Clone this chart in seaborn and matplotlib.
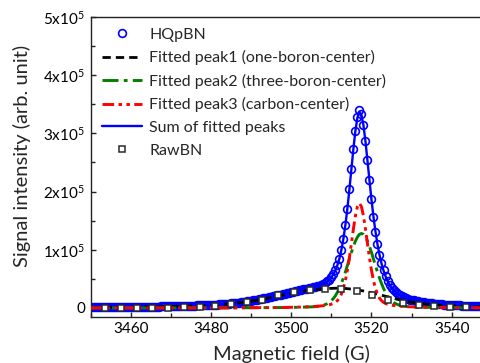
import numpy as np
import pandas as pd
import matplotlib
matplotlib.use("Agg")
import matplotlib.pyplot as plt
from matplotlib.ticker import MultipleLocator, FuncFormatter
from matplotlib.lines import Line2D
import seaborn as sns

# ---------------- data (intensities in units of 1e5) ----------------
# HQpBN spectrum, sampled every 0.5 G from 3450 G to 3548 G
hq_field = np.arange(3450.0, 3548.25, 0.5)
hq_signal = [
    0.012, 0.012, 0.012, 0.012, 0.013, 0.013, 0.013, 0.013, 0.014, 0.014,
    0.014, 0.014, 0.015, 0.015, 0.015, 0.016, 0.016, 0.016, 0.017, 0.017,
    0.017, 0.018, 0.018, 0.019, 0.019, 0.020, 0.020, 0.021, 0.021, 0.022,
    0.022, 0.023, 0.024, 0.024, 0.025, 0.026, 0.026, 0.027, 0.028, 0.028,
    0.029, 0.030, 0.031, 0.032, 0.033, 0.034, 0.035, 0.036, 0.037, 0.038,
    0.039, 0.040, 0.042, 0.043, 0.045, 0.046, 0.048, 0.049, 0.051, 0.052,
    0.053, 0.055, 0.057, 0.059, 0.061, 0.064, 0.067, 0.069, 0.072, 0.075,
    0.078, 0.081, 0.085, 0.089, 0.093, 0.098, 0.103, 0.108, 0.113, 0.118,
    0.124, 0.130, 0.136, 0.142, 0.149, 0.156, 0.163, 0.170, 0.177, 0.185,
    0.193, 0.200, 0.207, 0.215, 0.223, 0.230, 0.238, 0.246, 0.255, 0.262,
    0.270, 0.279, 0.287, 0.295, 0.303, 0.311, 0.319, 0.326, 0.334, 0.341,
    0.349, 0.357, 0.366, 0.375, 0.385, 0.398, 0.413, 0.432, 0.455, 0.486,
    0.527, 0.577, 0.645, 0.734, 0.848, 0.998, 1.188, 1.424, 1.709, 2.036,
    2.387, 2.737, 3.047, 3.290, 3.400, 3.340, 3.140, 2.864, 2.535, 2.194,
    1.865, 1.568, 1.311, 1.093, 0.913, 0.766, 0.645, 0.546, 0.466, 0.400,
    0.347, 0.305, 0.270, 0.241, 0.218, 0.200, 0.183, 0.170, 0.156, 0.145,
    0.136, 0.129, 0.121, 0.114, 0.108, 0.102, 0.096, 0.091, 0.085, 0.082,
    0.077, 0.074, 0.069, 0.067, 0.063, 0.061, 0.058, 0.055, 0.054, 0.050,
    0.048, 0.047, 0.045, 0.044, 0.043, 0.040, 0.039, 0.038, 0.036, 0.035,
    0.034, 0.032, 0.031, 0.030, 0.028, 0.028, 0.026,
]

# field points of the fitted components
fit_field = [
    3450, 3455, 3460, 3465, 3470, 3475, 3480, 3485, 3490, 3495,
    3497, 3499, 3501, 3503, 3505, 3506, 3507, 3508,
    3509, 3509.5, 3510, 3510.5, 3511, 3511.5, 3512, 3512.5, 3513, 3513.5,
    3514, 3514.5, 3515, 3515.5, 3516, 3516.5, 3517, 3517.5, 3518, 3518.5,
    3519, 3519.5, 3520, 3520.5, 3521, 3521.5, 3522, 3522.5, 3523, 3523.5,
    3524, 3524.5, 3525, 3525.5, 3526,
    3527, 3528, 3529, 3530, 3532, 3534, 3536, 3538, 3540, 3543, 3546, 3548,
]
peak1_one_boron = [
    0.010, 0.012, 0.015, 0.020, 0.026, 0.035, 0.048, 0.072, 0.115, 0.180,
    0.208, 0.236, 0.263, 0.288, 0.308, 0.316, 0.322, 0.328,
    0.333, 0.335, 0.337, 0.338, 0.339, 0.340, 0.340, 0.339, 0.337, 0.335,
    0.332, 0.328, 0.324, 0.319, 0.314, 0.309, 0.303, 0.298, 0.292, 0.285,
    0.277, 0.270, 0.262, 0.254, 0.246, 0.237, 0.228, 0.219, 0.210, 0.201,
    0.192, 0.183, 0.174, 0.166, 0.157,
    0.140, 0.125, 0.111, 0.098, 0.079, 0.063, 0.051, 0.043, 0.036, 0.029, 0.023, 0.020,
]
peak2_three_boron = [
    0.001, 0.001, 0.001, 0.001, 0.001, 0.002, 0.002, 0.003, 0.004, 0.006,
    0.007, 0.009, 0.011, 0.014, 0.019, 0.023, 0.031, 0.046,
    0.074, 0.096, 0.125, 0.162, 0.209, 0.268, 0.338, 0.421, 0.515, 0.618,
    0.729, 0.843, 0.955, 1.059, 1.150, 1.220, 1.265, 1.280, 1.265, 1.220,
    1.150, 1.059, 0.955, 0.843, 0.729, 0.618, 0.515, 0.421, 0.338, 0.268,
    0.209, 0.162, 0.125, 0.096, 0.074,
    0.046, 0.031, 0.023, 0.019, 0.014, 0.011, 0.009, 0.007, 0.006, 0.005, 0.004, 0.003,
]
peak3_carbon = [
    0.001, 0.001, 0.001, 0.001, 0.002, 0.002, 0.002, 0.003, 0.005, 0.007,
    0.008, 0.010, 0.013, 0.017, 0.022, 0.027, 0.032, 0.039,
    0.048, 0.055, 0.065, 0.077, 0.097, 0.126, 0.170, 0.238, 0.336, 0.471,
    0.648, 0.865, 1.108, 1.359, 1.583, 1.742, 1.800, 1.742, 1.583, 1.359,
    1.108, 0.865, 0.648, 0.471, 0.336, 0.238, 0.170, 0.126, 0.097, 0.077,
    0.065, 0.055, 0.048, 0.043, 0.039,
    0.032, 0.027, 0.022, 0.019, 0.015, 0.011, 0.009, 0.008, 0.006, 0.005, 0.004, 0.003,
]

# raw BN spectrum
raw_field = [
    3453.6, 3457.5, 3461.5, 3465.3, 3469.3, 3473.3, 3477.2, 3481.1, 3485.0, 3489.0,
    3492.8, 3496.7, 3500.6, 3504.6, 3508.5, 3512.4, 3516.3, 3520.2, 3524.0, 3527.9,
    3531.8, 3535.7, 3539.6, 3543.6,
]
raw_signal = [
    0.000, 0.000, 0.002, 0.003, 0.005, 0.010, 0.020, 0.040, 0.060, 0.095,
    0.145, 0.215, 0.280, 0.315, 0.330, 0.325, 0.300, 0.220, 0.145, 0.090,
    0.055, 0.030, 0.015, 0.010,
]

labels = [
    "HQpBN",
    "Fitted peak1 (one-boron-center)",
    "Fitted peak2 (three-boron-center)",
    "Fitted peak3 (carbon-center)",
    "Sum of fitted peaks",
    "RawBN",
]

SCALE = 1e5
hq = pd.DataFrame({"field": hq_field, "signal": np.array(hq_signal) * SCALE})
fits = pd.DataFrame({
    "field": fit_field,
    "p1": np.array(peak1_one_boron) * SCALE,
    "p2": np.array(peak2_three_boron) * SCALE,
    "p3": np.array(peak3_carbon) * SCALE,
})
fits["total"] = fits["p1"] + fits["p2"] + fits["p3"]
raw = pd.DataFrame({"field": raw_field, "signal": np.array(raw_signal) * SCALE})

# ---------------- style ----------------
sns.set_style("ticks")
FONT = "Lato"
plt.rcParams["font.family"] = [FONT, "DejaVu Sans"]
plt.rcParams["mathtext.fontset"] = "custom"
plt.rcParams["mathtext.rm"] = FONT
plt.rcParams["mathtext.it"] = FONT
plt.rcParams["axes.linewidth"] = 1.0
plt.rcParams["axes.edgecolor"] = "#222222"

W, H = 481, 363
fig = plt.figure(figsize=(W / 100, H / 100), dpi=100)
x0, x1 = 90.6, 481.0
y_top, y_bot = 17.0, 316.7
ax = fig.add_axes([x0 / W, (H - y_bot) / H, (x1 - x0) / W, (y_bot - y_top) / H])

BLUE, GREEN, RED, GREY = "#0000ff", "#008000", "#ff0000", "#2a2a2a"
HQ_STYLE = dict(marker="o", linestyle="", color=BLUE, mfc="none", mec=BLUE, mew=1.2, ms=5.6)
P1_STYLE = dict(color="black", lw=2.0, linestyle=(0, (3.0, 1.8)))
P2_STYLE = dict(color=GREEN, lw=2.1, linestyle=(0, (5.5, 1.8, 1.3, 1.8)))
P3_STYLE = dict(color=RED, lw=2.1, linestyle=(0, (4.0, 1.5, 1.2, 1.5, 1.2, 1.5)))
SUM_STYLE = dict(color=BLUE, lw=1.7)
RAW_STYLE = dict(marker="s", linestyle="", color=GREY, mfc="white", mec=GREY, mew=1.1, ms=5.0)

sns.lineplot(data=hq, x="field", y="signal", ax=ax, errorbar=None, zorder=2, **HQ_STYLE)
sns.lineplot(data=fits, x="field", y="total", ax=ax, errorbar=None, zorder=3, **SUM_STYLE)
sns.lineplot(data=fits, x="field", y="p1", ax=ax, errorbar=None, zorder=4, **P1_STYLE)
sns.lineplot(data=fits, x="field", y="p2", ax=ax, errorbar=None, zorder=4, **P2_STYLE)
sns.lineplot(data=fits, x="field", y="p3", ax=ax, errorbar=None, zorder=4, **P3_STYLE)
sns.lineplot(data=raw, x="field", y="signal", ax=ax, errorbar=None, zorder=5, **RAW_STYLE)

ax.set_xlim(3450, 3547.3)
ax.set_ylim(-0.15e5, 5e5)
ax.xaxis.set_major_locator(MultipleLocator(20))
ax.xaxis.set_minor_locator(MultipleLocator(10))
ax.yaxis.set_major_locator(MultipleLocator(1e5))
ax.yaxis.set_minor_locator(MultipleLocator(0.5e5))


def sci(v, pos):
    n = int(round(v / 1e5))
    return "0" if n == 0 else f"{n}x10$^{{5}}$"


ax.yaxis.set_major_formatter(FuncFormatter(sci))
ax.tick_params(which="both", direction="in", top=False, right=False,
               labelsize=11, colors="#222222", labelcolor="black")
ax.tick_params(which="major", length=3.8, width=1.0, pad=4)
ax.tick_params(which="minor", length=2.6, width=1.0)
ax.spines["right"].set_visible(False)

ax.set_xlabel("Magnetic field (G)", fontsize=14.5)
ax.set_ylabel("Signal intensity (arb. unit)", fontsize=14.5)
ax.xaxis.set_label_coords((291 - x0) / (x1 - x0), -(345 - y_bot) / (y_bot - y_top))
ax.yaxis.set_label_coords((31 - x0) / (x1 - x0), (y_bot - 156) / (y_bot - y_top))
ax.xaxis.label.set_va("top")

handles = [
    Line2D([], [], **HQ_STYLE),
    Line2D([], [], **P1_STYLE),
    Line2D([], [], **P2_STYLE),
    Line2D([], [], **P3_STYLE),
    Line2D([], [], **SUM_STYLE),
    Line2D([], [], **RAW_STYLE),
]
ax.legend(handles, labels, loc="upper left", frameon=False, fontsize=11.5,
          bbox_to_anchor=((102 - x0) / (x1 - x0), (y_bot - 27.5) / (y_bot - y_top)),
          borderpad=0, borderaxespad=0, handlelength=2.5, handletextpad=0.45,
          labelspacing=0.53, numpoints=1)

fig.savefig("out.png", dpi=100)
